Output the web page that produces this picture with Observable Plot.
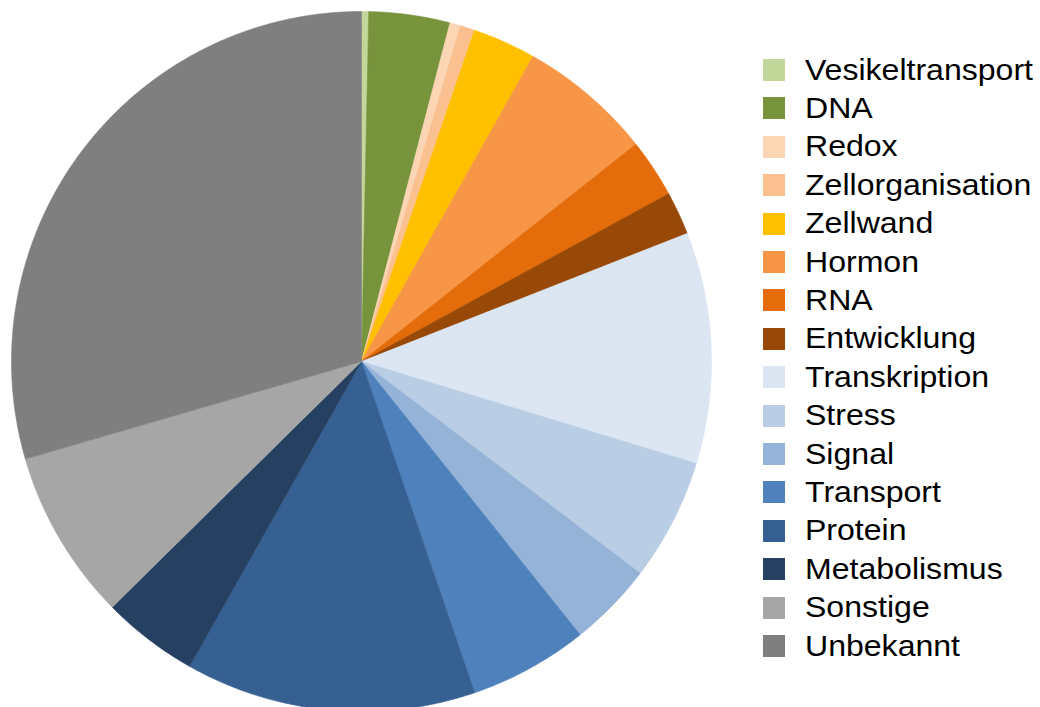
<!DOCTYPE html>
<html>
<head>
<meta charset="utf-8">
<script src="https://cdn.jsdelivr.net/npm/d3@7"></script>
<script src="https://cdn.jsdelivr.net/npm/@observablehq/plot@0.6"></script>
<style>
  html, body { margin: 0; padding: 0; background: #fff; overflow: hidden; }
  #wrap { position: relative; width: 1040px; height: 707px; }
  #legend { position: absolute; left: 763px; top: 50.8px; font-family: "Liberation Sans", Arial, sans-serif; font-size: 29px; color: #000; }
  .row { display: flex; align-items: center; height: 38.42px; }
  .sw { width: 22px; height: 22px; margin-right: 20px; flex: none; }
  .lb { display: inline-block; transform: scaleX(1.105); transform-origin: 0 50%; white-space: nowrap; }
</style>
</head>
<body>
<div id="wrap"><div id="chart"></div><div id="legend"></div></div>
<script>
const categories = ["Vesikeltransport","DNA","Redox","Zellorganisation","Zellwand","Hormon","RNA","Entwicklung","Transkription","Stress","Signal","Transport","Protein","Metabolismus","Sonstige","Unbekannt"];
const shares = [0.33, 3.74, 0.49, 0.67, 2.92, 6.19, 2.71, 1.99, 10.67, 5.64, 3.92, 5.5, 13.42, 4.44, 7.89, 29.5];
const colors = ["#c4d79b","#77933c","#fcd5b5","#fac090","#ffc000","#f79646","#e46c0a","#984807","#dce6f2","#b9cde5","#95b3d7","#4f81bd","#376092","#254061","#a6a6a6","#7f7f7f"];

const data = categories.map((name, i) => ({name, value: shares[i]}));
const arcs = d3.pie().sort(null).value(d => d.value)(data);

// Build slice outlines (center + sampled arc) from the pie angles
const pts = [];
for (const a of arcs) {
  const name = a.data.name;
  pts.push({name, x: 0, y: 0});
  const n = Math.max(2, Math.ceil((a.endAngle - a.startAngle) / (Math.PI / 360)));
  for (let k = 0; k <= n; k++) {
    const t = a.startAngle + (a.endAngle - a.startAngle) * k / n;
    pts.push({name, x: Math.sin(t), y: Math.cos(t)});
  }
  pts.push({name, x: 0, y: 0});
}

const chart = Plot.plot({
  width: 1040,
  height: 711,
  marginLeft: 11,
  marginRight: 329,
  marginTop: 11,
  marginBottom: 0,
  x: {domain: [-1, 1], axis: null},
  y: {domain: [-1, 1], axis: null},
  color: {type: "ordinal", domain: categories, range: colors},
  marks: [
    Plot.line(pts, {x: "x", y: "y", z: "name", fill: "name", stroke: "name", strokeWidth: 0.6, curve: "linear"})
  ]
});
document.getElementById("chart").appendChild(chart);

const legend = document.getElementById("legend");
categories.forEach((name, i) => {
  const row = document.createElement("div");
  row.className = "row";
  const sw = document.createElement("div");
  sw.className = "sw";
  sw.style.background = colors[i];
  const label = document.createElement("span");
  label.className = "lb";
  label.textContent = name;
  row.appendChild(sw);
  row.appendChild(label);
  legend.appendChild(row);
});
</script>
</body>
</html>
